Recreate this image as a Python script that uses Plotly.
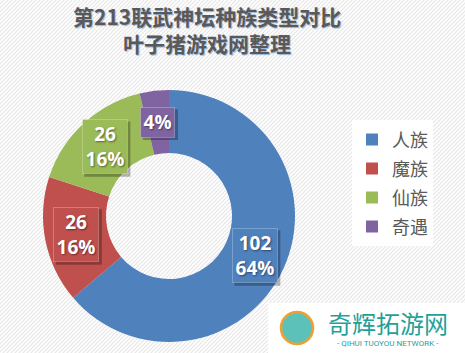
import math, base64
import plotly.graph_objects as go

W, H = 465, 353
categories = ["人族", "魔族", "仙族", "奇遇"]
values = [102, 26, 26, 6]
colors = ["#4F81BD", "#C0504D", "#9BBB59", "#8064A2"]
show_value = [True, True, True, False]
title_lines = ["第213联武神坛种族类型对比", "叶子猪游戏网整理"]

# donut geometry (pixels)
cx, cy_top, R, hole = 169, 216, 126, 0.5
cy = H - cy_top

fig = go.Figure(go.Pie(
    labels=[f'<span style="font-size:18px">{c}</span>' for c in categories],
    values=values, hole=hole, sort=False,
    direction="clockwise", rotation=0,
    marker=dict(colors=colors, line=dict(width=0)),
    textinfo="none", hoverinfo="value+percent",
    domain=dict(x=[(cx - R) / W, (cx + R) / W], y=[(cy - R) / H, (cy + R) / H]),
))

# background stripe pattern
svg = (f'<svg xmlns="http://www.w3.org/2000/svg" width="{W}" height="{H}">'
       '<defs><pattern id="p" width="4" height="4" patternUnits="userSpaceOnUse">'
       '<path d="M-1,1 l2,-2 M0,4 l4,-4 M3,5 l2,-2" stroke="#e6e6e6" stroke-width="1.2"/>'
       '</pattern></defs><rect width="100%" height="100%" fill="#ffffff"/>'
       '<rect width="100%" height="100%" fill="url(#p)"/></svg>')
src = "data:image/svg+xml;base64," + base64.b64encode(svg.encode()).decode()

FS = 19
def text_w(s):
    return sum(0.86 * FS if ch == "%" else 0.572 * FS for ch in s)

annotations, shapes = [], []
total = sum(values)
cum = 0
rmid = R * (1 + hole) / 2
for v, c, sv in zip(values, colors, show_value):
    mid = (cum + v / 2) / total * 2 * math.pi
    cum += v
    x = (cx + rmid * math.sin(mid)) / W
    y = (cy + rmid * math.cos(mid)) / H
    pct = f"{round(v / total * 100)}%"
    lines = [str(v), pct] if sv else [pct]
    bw = max(text_w(s) for s in lines) + 8
    bh = len(lines) * FS * 1.3 + 6
    sh = 2.5
    shapes.append(dict(type="rect", xref="paper", yref="paper", xsizemode="pixel", ysizemode="pixel",
                       xanchor=x, yanchor=y, x0=-bw / 2 + sh, x1=bw / 2 + sh,
                       y0=-bh / 2 - sh, y1=bh / 2 - sh,
                       fillcolor="rgba(0,0,0,0.28)", line=dict(width=0), layer="above"))
    annotations.append(dict(x=x, y=y, xref="paper", yref="paper", xanchor="center", yanchor="middle",
                            text="<b>" + "<br>".join(lines) + "</b>", showarrow=False,
                            width=bw - 4, height=bh - 4,
                            font=dict(color="white", size=FS, family="Open Sans",
                                      shadow="1px 1px 2px rgba(0,0,0,0.45)"),
                            bgcolor=c, bordercolor="rgba(255,255,255,0.25)", borderwidth=1, borderpad=1))

annotations.append(dict(x=207 / W, y=1 - 29.5 / H, xref="paper", yref="paper",
                        xanchor="center", yanchor="middle",
                        text="<b>" + "<br>".join(title_lines) + "</b>", showarrow=False,
                        font=dict(size=21, color="#595959", family="Noto Sans CJK SC",
                                  shadow="1px 1px 1px rgba(79,129,189,0.55)")))

# watermark
annotations.append(dict(x=388 / W, y=1 - 322 / H, xref="paper", yref="paper",
                        xanchor="center", yanchor="middle", text="奇辉拓游网",
                        showarrow=False, font=dict(size=24, color="#1fa199", family="Noto Sans CJK SC")))
annotations.append(dict(x=388 / W, y=1 - 343 / H, xref="paper", yref="paper",
                        xanchor="center", yanchor="middle",
                        text="- QIHUI TUOYOU NETWORK -", showarrow=False,
                        font=dict(size=8, color="#1fa199", family="Roboto")))

shapes += [
    dict(type="rect", xref="paper", yref="paper", x0=268 / W, x1=1, y0=0, y1=1 - 303 / H,
         fillcolor="white", line=dict(width=0), layer="above"),
    dict(type="circle", xref="paper", yref="paper", x0=281 / W, x1=313 / W,
         y0=1 - 344 / H, y1=1 - 312 / H, fillcolor="#5cc2b9", line=dict(color="#f0a030", width=2.5),
         layer="above"),
]

fig.update_layout(
    width=W, height=H, margin=dict(l=0, r=0, t=0, b=0),
    paper_bgcolor="white", plot_bgcolor="white",
    images=[dict(source=src, xref="paper", yref="paper", x=0, y=1, sizex=1, sizey=1,
                 sizing="stretch", layer="below", xanchor="left", yanchor="top")],
    legend=dict(x=352 / W, y=1 - 120 / H, xanchor="left", yanchor="top", bgcolor="white",
                font=dict(size=20, color="#595959", family="Noto Sans CJK SC"),
                itemwidth=30, tracegroupgap=0),
    annotations=annotations, shapes=shapes,
)

fig.write_html("out.html")
